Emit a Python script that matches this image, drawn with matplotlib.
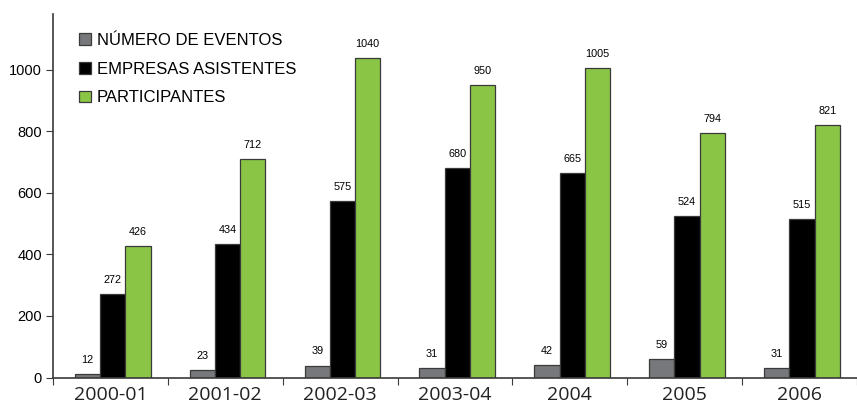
import numpy as np
import matplotlib.pyplot as plt

# data
periodos = ["2000-01", "2001-02", "2002-03", "2003-04", "2004", "2005", "2006"]
eventos = [12, 23, 39, 31, 42, 59, 31]
empresas = [272, 434, 575, 680, 665, 524, 515]
participantes = [426, 712, 1040, 950, 1005, 794, 821]

series = [("NÚMERO DE EVENTOS", eventos, "#76787b"),
          ("EMPRESAS ASISTENTES", empresas, "#000000"),
          ("PARTICIPANTES", participantes, "#8bc546")]

fig = plt.figure(figsize=(8.57, 4.08), dpi=100)
ax = fig.add_axes([53 / 857, 30.5 / 408, 1 - 53 / 857, (377.5 - 14) / 408])

x = np.arange(len(periodos))
w = 0.22
for i, (name, vals, col) in enumerate(series):
    pos = x + 0.02 + (i - 1) * w
    ax.bar(pos, vals, w, color=col, edgecolor="#3a3a3a", linewidth=0.9, label=name)
    for xp, v in zip(pos, vals):
        ax.annotate(str(v), (xp, v), xytext=(0, 6.5), textcoords="offset points",
                    ha="center", va="bottom", fontsize=7.8, family="Liberation Sans")

ax.set_xlim(-0.5, (857 - 53) / 117 - 0.5)
ax.set_ylim(0, 1182)
ax.set_yticks([0, 200, 400, 600, 800, 1000])
ax.tick_params(axis="y", labelsize=10.5, length=5, direction="out", color="#3a3a3a", pad=3)
for lab in ax.get_yticklabels():
    lab.set_family("Liberation Sans")

# category ticks at the boundaries, labels at the centres
ax.set_xticks(np.arange(len(periodos) + 1) - 0.5)
ax.set_xticklabels([])
ax.tick_params(axis="x", length=5, color="#3a3a3a")
ax.set_xticks(x, minor=True)
ax.set_xticklabels(periodos, minor=True, fontsize=14, family="Open Sans", color="#222222")
ax.tick_params(axis="x", which="minor", length=0, pad=6)

for s in ["top", "right"]:
    ax.spines[s].set_visible(False)
for s in ["left", "bottom"]:
    ax.spines[s].set_color("#3a3a3a")
    ax.spines[s].set_linewidth(1.2)

leg = ax.legend(loc="upper left", bbox_to_anchor=(0.02, 0.975), frameon=False,
                prop={"family": "Liberation Sans", "size": 12},
                handlelength=0.7, handleheight=0.7, handletextpad=0.35,
                labelspacing=0.82, borderaxespad=0.2)

fig.savefig("out.png", dpi=100)
